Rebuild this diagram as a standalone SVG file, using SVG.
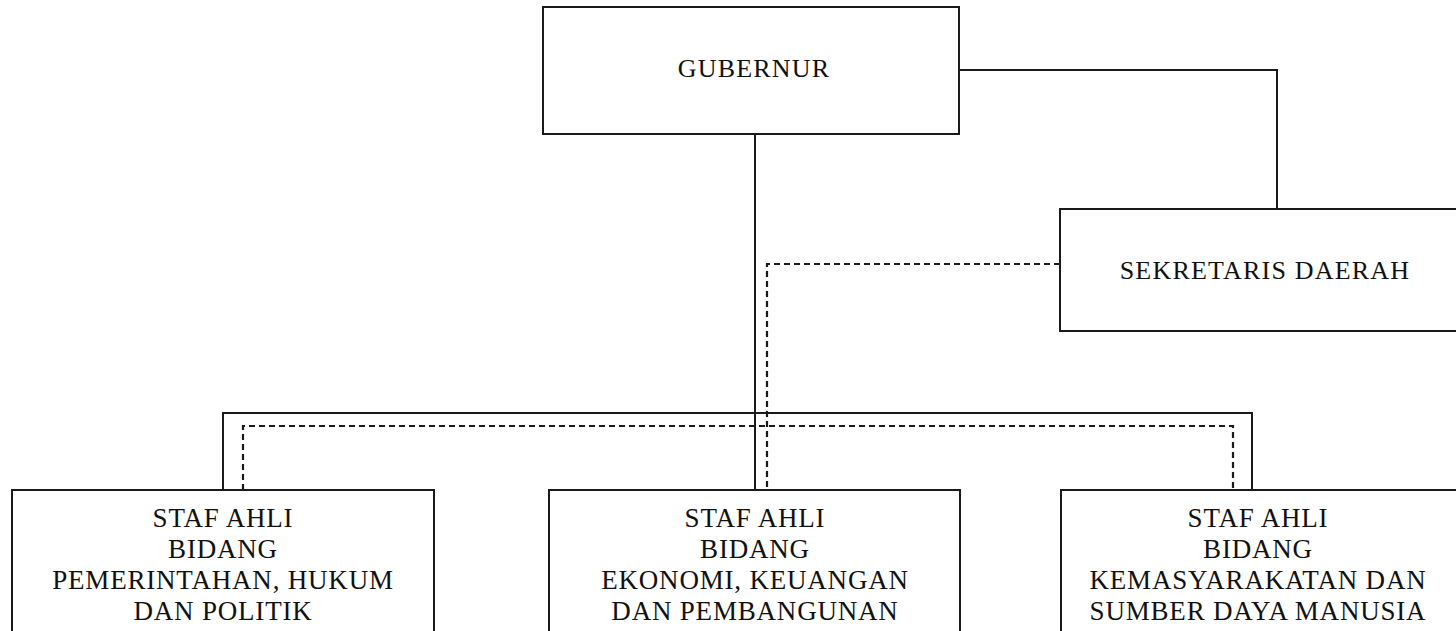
<svg xmlns="http://www.w3.org/2000/svg" width="1456" height="631" viewBox="0 0 1456 631">
<style>
.box{fill:#fff;stroke:#1a1a1a;stroke-width:2}
.ln{fill:none;stroke:#1a1a1a;stroke-width:2}
.dash{fill:none;stroke:#1a1a1a;stroke-width:2.2;stroke-dasharray:6 4}
.t{font-family:"Liberation Serif","Times New Roman",serif;fill:#111;text-anchor:middle}
.top{font-size:26px;letter-spacing:1.2px}
.bot{font-size:27px;letter-spacing:0.8px}
</style>
<rect width="1456" height="631" fill="#fff"/>
<g id="connectors">
<polyline class="ln" points="959,70 1277,70 1277,209"/>
<line class="ln" x1="755" y1="134" x2="755" y2="490"/>
<polyline class="ln" points="223,490 223,413 1252,413 1252,490"/>
<polyline class="dash" points="1060,264 767,264 767,490"/>
<polyline class="dash" points="243,490 243,426 1233,426 1233,490"/>
</g>
<g id="gubernur">
<rect class="box" x="543" y="7" width="416" height="127"/>
<text class="t top" x="754" y="77">GUBERNUR</text>
</g>
<g id="sekretaris-daerah">
<rect class="box" x="1060" y="209" width="420" height="122"/>
<text class="t top" x="1265" y="279">SEKRETARIS DAERAH</text>
</g>
<g id="staf-ahli-pemerintahan">
<rect class="box" x="12" y="490" width="422" height="160"/>
<text class="t bot" x="223" y="527">STAF AHLI</text>
<text class="t bot" x="223" y="558">BIDANG</text>
<text class="t bot" x="223" y="589">PEMERINTAHAN, HUKUM</text>
<text class="t bot" x="223" y="620">DAN POLITIK</text>
</g>
<g id="staf-ahli-ekonomi">
<rect class="box" x="549" y="490" width="411" height="160"/>
<text class="t bot" x="755" y="527">STAF AHLI</text>
<text class="t bot" x="755" y="558">BIDANG</text>
<text class="t bot" x="755" y="589">EKONOMI, KEUANGAN</text>
<text class="t bot" x="755" y="620">DAN PEMBANGUNAN</text>
</g>
<g id="staf-ahli-kemasyarakatan">
<rect class="box" x="1061" y="490" width="420" height="160"/>
<text class="t bot" x="1258" y="527">STAF AHLI</text>
<text class="t bot" x="1258" y="558">BIDANG</text>
<text class="t bot" x="1258" y="589">KEMASYARAKATAN DAN</text>
<text class="t bot" x="1258" y="620">SUMBER DAYA MANUSIA</text>
</g>
</svg>
